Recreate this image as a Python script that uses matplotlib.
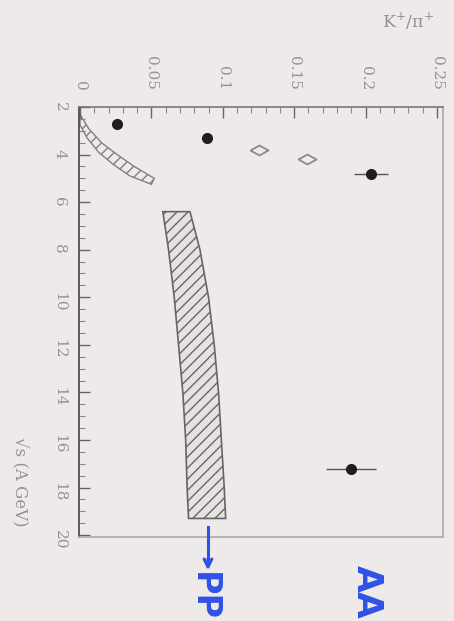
import matplotlib
matplotlib.use("Agg")
import matplotlib.pyplot as plt
import numpy as np
from matplotlib.path import Path
from matplotlib.ticker import MultipleLocator

# heavy-ion K+/pi+ points (sqrt(s) per nucleon pair, ratio)
aa_sqrts = [2.7, 3.3, 4.8, 17.2]
aa_kpi = [0.026, 0.089, 0.204, 0.190]
aa_err = [0.0, 0.0, 0.012, 0.0175]

# open diamonds
dia_sqrts = [3.8, 4.2]
dia_kpi = [0.125, 0.159]

# low-energy pp band (two edges)
low_outer_sqrts = [2.3, 2.9, 3.5, 4.0, 4.5, 5.0]
low_outer_kpi = [0.0, 0.006, 0.015, 0.026, 0.038, 0.052]
low_inner_sqrts = [2.75, 3.3, 3.9, 4.4, 4.9, 5.25]
low_inner_kpi = [0.0, 0.005, 0.013, 0.023, 0.035, 0.050]

# high-energy pp band
pp_sqrts = [6.4, 8, 10, 12, 14, 16, 18, 19.3]
pp_low = [0.058, 0.062, 0.066, 0.069, 0.072, 0.074, 0.075, 0.076]
pp_high = [0.077, 0.084, 0.090, 0.094, 0.097, 0.099, 0.101, 0.102]

W, H = 454, 621
bg = "#eeeaea"
grey = "#939393"

fig = plt.figure(figsize=(W / 100, H / 100), dpi=100, facecolor=bg)
ax = fig.add_axes([79 / W, 1 - 537 / H, (443 - 79) / W, (537 - 107) / H])
ax.set_facecolor(bg)

# plot is drawn turned on its side: ratio runs across, energy runs down
ax.set_xlim(-0.0007, 0.2542)
ax.set_ylim(20.08, 2)

plt.rcParams["hatch.color"] = "#9a9a9a"

# low energy band
xs = low_outer_kpi + low_inner_kpi[::-1]
ys = low_outer_sqrts + low_inner_sqrts[::-1]
ax.fill(xs, ys, facecolor="none", edgecolor="#808080", lw=1.0, hatch="///")

# high energy band
xs = pp_low + pp_high[::-1]
ys = pp_sqrts + pp_sqrts[::-1]
ax.fill(xs, ys, facecolor="#e6e2e2", edgecolor="#666666", lw=1.2, hatch="///")

wide_diamond = Path([(-1, 0), (0, 0.55), (1, 0), (0, -0.55), (-1, 0)])
ax.plot(dia_kpi, dia_sqrts, ls="none", marker=wide_diamond, ms=13,
        mfc=bg, mec="#8a8a8a", mew=1.3)

ax.errorbar(aa_kpi, aa_sqrts, xerr=aa_err, fmt="o", ms=7, color="#1e1e1e",
            ecolor="#555555", elinewidth=1.0, capsize=0)

# axes: ticks inside, labels turned
ax.xaxis.set_ticks_position("top")
ax.xaxis.set_label_position("top")
ax.set_xticks([0, 0.05, 0.1, 0.15, 0.2, 0.25])
ax.set_xticklabels(["0", "0.05", "0.1", "0.15", "0.2", "0.25"])
ax.xaxis.set_minor_locator(MultipleLocator(0.01))
ax.set_yticks(range(2, 21, 2))
ax.yaxis.set_minor_locator(MultipleLocator(0.5))
ax.tick_params(axis="both", which="major", direction="in", length=8,
               width=1.0, color="#666666", labelcolor=grey, labelsize=11)
ax.tick_params(axis="both", which="minor", direction="in", length=4,
               width=0.8, color="#888888")
ax.tick_params(axis="x", pad=12)
ax.tick_params(axis="y", pad=9)
for lab in ax.get_xticklabels() + ax.get_yticklabels():
    lab.set_rotation(-90)
    lab.set_fontfamily("DejaVu Serif")

ax.spines["left"].set_color("#444444")
ax.spines["top"].set_color("#777777")
ax.spines["right"].set_color("#aaaaaa")
ax.spines["bottom"].set_color("#aaaaaa")
for s in ax.spines.values():
    s.set_linewidth(1.2)

fig.text(19 / W, 1 - 482 / H, "√s (A GeV)", rotation=-90, ha="center",
         va="center", color=grey, fontsize=12, family="DejaVu Serif")
fig.text(408 / W, 1 - 21 / H, "K$^{+}$/π$^{+}$", ha="center", va="center",
         color=grey, fontsize=12.5, family="DejaVu Serif")

# hand-drawn style notes
blue = "#2f52e6"
fig.add_artist(plt.Line2D([208 / W, 208 / W], [1 - 527 / H, 1 - 560 / H],
                          color=blue, lw=2.2))
ax.annotate("", xy=(208 / W, 1 - 573 / H), xytext=(208 / W, 1 - 556 / H),
            xycoords="figure fraction", textcoords="figure fraction",
            arrowprops=dict(arrowstyle="->", color=blue, lw=2.2,
                            mutation_scale=14))
fig.text(203 / W, 1 - 597 / H, "PP", rotation=-90, ha="center", va="center",
         color=blue, fontsize=24, fontweight="bold")
fig.text(367 / W, 1 - 592 / H, "AA", rotation=-90, ha="center", va="center",
         color=blue, fontsize=25, fontweight="bold")

fig.savefig("out.png", dpi=100, facecolor=bg)
